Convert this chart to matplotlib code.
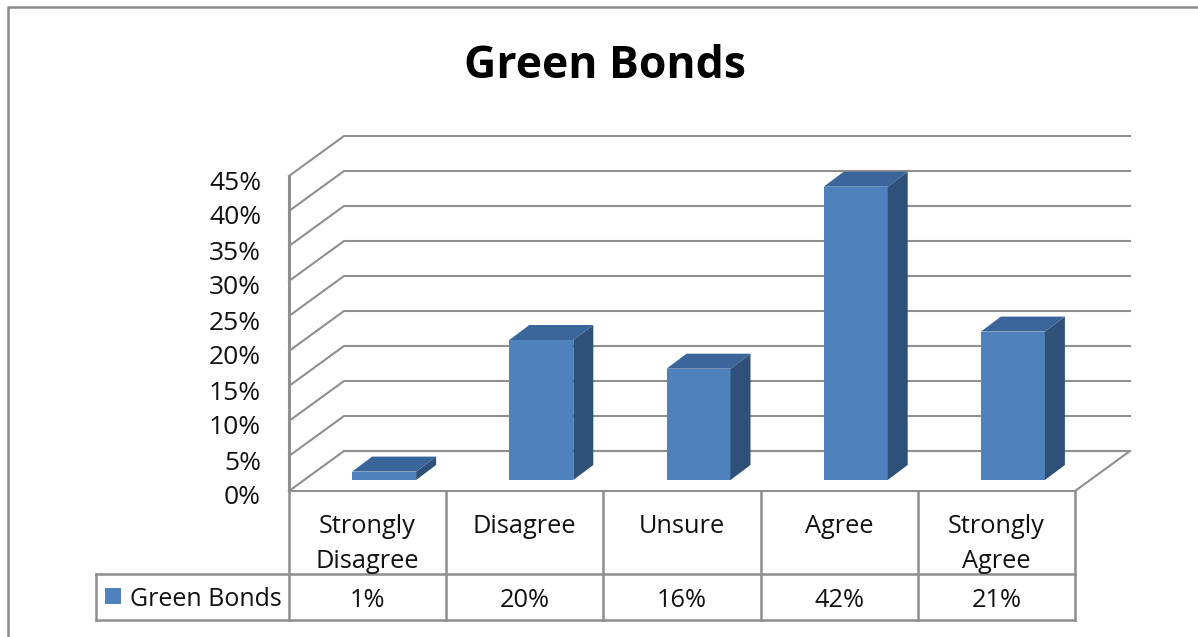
import matplotlib
matplotlib.use("Agg")
import matplotlib.pyplot as plt
from matplotlib.patches import Rectangle

categories = ["Strongly\nDisagree", "Disagree", "Unsure", "Agree", "Strongly\nAgree"]
values = [1.2, 20, 15.9, 41.9, 21.2]
value_labels = ["1%", "20%", "16%", "42%", "21%"]
series_name = "Green Bonds"
y_ticks = [0, 5, 10, 15, 20, 25, 30, 35, 40, 45]
title = "Green Bonds"

W, H = 1198, 637
FONT = "Open Sans"
GRID = "#8f8f8f"
FRONT = "#4f81bd"
SIDE = "#2f5179"
TOP = "#3a659a"
TXT = "#111111"

fig = plt.figure(figsize=(W / 100, H / 100), dpi=100, facecolor="white")
# frame of the chart
fig.add_artist(plt.Line2D([8 / W, 8 / W, 1], [0, 1 - 7 / H, 1 - 7 / H],
                          color="#8a8a8a", lw=1.8, transform=fig.transFigure))

L, R, B, T = 289, 1075, 491, 176
ax = fig.add_axes([L / W, 1 - B / H, (R - L) / W, (B - T) / H])
ax.set_xlim(0, 5)
ax.set_ylim(0, 45)
ax.axis("off")

ux = 5 / (R - L)      # data units per pixel, x
uy = 45 / (B - T)     # data units per pixel, y
kw = dict(clip_on=False)

# walls
dx, dy = 55 * ux, 40 * uy
for t in y_ticks:
    ax.plot([0, dx, 5 + dx], [t, t + dy, t + dy], color=GRID, lw=1.5, zorder=1, **kw)
ax.plot([0, 0], [0, 45], color=GRID, lw=2.2, zorder=1, **kw)
ax.plot([0, 5, 5 + dx, dx], [0, 0, dy, dy], color=GRID, lw=1.5, zorder=1, **kw)

# bars
bw = 64 * ux
ox, oy = 16.5 * ux, 11 * uy
ddx, ddy = 20 * ux, 15 * uy
for i, v in enumerate(values):
    x0 = i + 0.5 - bw / 2 + ox
    x1 = x0 + bw
    y0, y1 = oy, oy + v
    ax.bar(x0, v, bw, bottom=oy, align="edge", color=FRONT, zorder=3, **kw)
    ax.fill([x1, x1 + ddx, x1 + ddx, x1], [y0, y0 + ddy, y1 + ddy, y1], color=SIDE, lw=0, zorder=3, **kw)
    ax.fill([x0, x0 + ddx, x1 + ddx, x1], [y1, y1 + ddy, y1 + ddy, y1], color=TOP, lw=0, zorder=3, **kw)

# y tick labels
for t in y_ticks:
    ax.text(-28 * ux, t - 7 * uy, f"{t}%", ha="right", va="center", fontsize=19,
            family=FONT, color=TXT, **kw)

# data table
row1 = -(574 - B) * uy
row2 = -(620 - B) * uy
left = -(L - 96) * ux
tl = dict(color=GRID, lw=1.8, zorder=2, **kw)
ax.plot([left, 5], [row1, row1], **tl)
ax.plot([left, 5], [row2, row2], **tl)
ax.plot([left, left], [row1, row2], **tl)
for i in range(6):
    ax.plot([i, i], [0, row2], **tl)
for i, (c, lab) in enumerate(zip(categories, value_labels)):
    ax.text(i + 0.5, -(514 - B) * uy, c, ha="center", va="top", fontsize=18.3,
            family=FONT, color=TXT, linespacing=1.5, **kw)
    ax.text(i + 0.5, (row1 + row2) / 2 - 3.5 * uy, lab, ha="center", va="center", fontsize=18.3,
            family=FONT, color=TXT, **kw)
ax.add_patch(Rectangle((-(L - 105) * ux, (row1 + row2) / 2 - 7 * uy), 16 * ux, 16 * uy,
                       color=FRONT, lw=0, **kw))
ax.text(-(L - 130) * ux, (row1 + row2) / 2 - 2.5 * uy, series_name, ha="left", va="center",
        fontsize=18, family=FONT, color=TXT, **kw)

fig.text(605 / W, 1 - 66 / H, title, ha="center", va="center", fontsize=32,
         fontweight="bold", family=FONT, color="black")

fig.savefig("out.png", dpi=100)
